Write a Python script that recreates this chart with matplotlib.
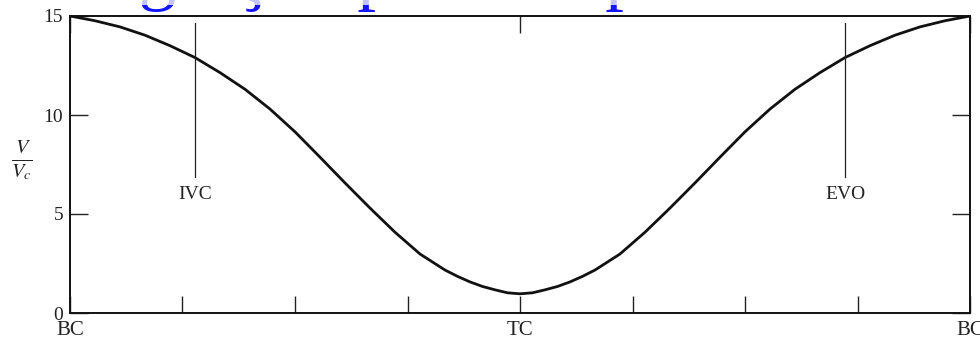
import matplotlib.pyplot as plt
from matplotlib.patches import Rectangle

# crank angle in degrees, BC (-180) -> TC (0) -> BC (180)
crank_angle = [-180, -170, -160, -150, -140, -130, -120, -110, -100, -90,
               -80, -70, -60, -50, -40, -30, -25, -20, -15, -10, -5, 0,
               5, 10, 15, 20, 25, 30, 40, 50, 60, 70, 80, 90,
               100, 110, 120, 130, 140, 150, 160, 170, 180]

# V / Vc
volume_ratio = [15.0, 14.76, 14.45, 14.03, 13.5, 12.9, 12.14, 11.3, 10.3, 9.15,
                7.87, 6.57, 5.3, 4.08, 2.98, 2.17, 1.85, 1.57, 1.34, 1.17, 1.02, 0.97,
                1.02, 1.17, 1.34, 1.57, 1.85, 2.17, 2.98, 4.08, 5.3, 6.57, 7.87, 9.15,
                10.3, 11.3, 12.14, 12.9, 13.5, 14.03, 14.45, 14.76, 15.0]

valve_events = ["IVC", "EVO"]
valve_angles = [-130, 130]

major_ticks = [-180, 0, 180]
major_labels = ["BC", "TC", "BC"]
minor_ticks = [-135, -90, -45, 45, 90, 135]
y_ticks = [0, 5, 10, 15]

plt.rcParams["font.family"] = "Liberation Serif"
plt.rcParams["mathtext.fontset"] = "stix"

fig = plt.figure(figsize=(9.8, 3.45), dpi=100)
ax = fig.add_axes([70 / 980, 32 / 345, 900 / 980, 297 / 345])

ax.plot(crank_angle, volume_ratio, color="#111111", linewidth=2.0,
        solid_joinstyle="round")

for name, angle in zip(valve_events, valve_angles):
    ax.plot([angle, angle], [14.65, 6.85], color="#222222", linewidth=0.9)
    ax.text(angle, 6.0, name, ha="center", va="center", fontsize=14,
            color="#222222")

ax.set_xlim(-180, 180)
ax.set_ylim(0, 15)

ax.set_xticks(major_ticks)
ax.set_xticklabels(major_labels, fontsize=15)
ax.set_xticks(minor_ticks, minor=True)
ax.set_yticks(y_ticks)
ax.set_yticklabels([str(v) for v in y_ticks], fontsize=14)

ax.tick_params(axis="x", which="major", direction="in", length=12,
               width=1.0, top=True, pad=6, colors="#222222")
ax.tick_params(axis="x", which="minor", direction="in", length=12,
               width=1.0, colors="#222222")
ax.tick_params(axis="y", direction="in", length=13, width=1.0,
               right=True, pad=5, colors="#222222")

for spine in ax.spines.values():
    spine.set_linewidth(1.4)
    spine.set_color("#111111")

fig.text(22 / 980, 1 - 160 / 345, r"$\frac{V}{V_c}$", fontsize=21,
         ha="center", va="center", color="#222222")

# title cut by the top edge of the picture
fig.text(830 / 980, 1 + 4 / 345, "Motor de ignição por compressão",
         fontsize=54, color="#1414ff", ha="right", va="baseline")
# washed-out strip over the cut title, as in the scan
fig.patches.append(Rectangle((0, 1 - 5 / 345), 1, 5 / 345,
                             transform=fig.transFigure, facecolor="white",
                             alpha=0.75, edgecolor="none", zorder=5))

plt.savefig("out.png", dpi=100)
